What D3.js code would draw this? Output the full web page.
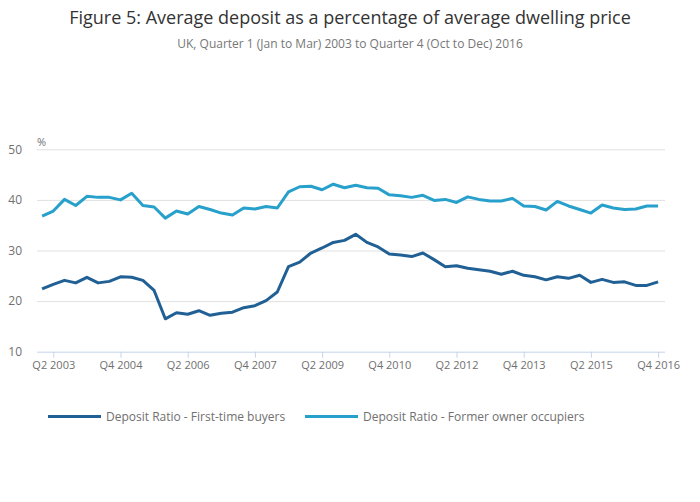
<!DOCTYPE html>
<html>
<head>
<meta charset="utf-8">
<script src="https://cdn.jsdelivr.net/npm/d3@7"></script>
<style>
  body { margin: 0; background: #fff; }
  text { font-family: 'Open Sans', sans-serif; }
</style>
</head>
<body>
<div id="chart"></div>
<script>
// quarters Q1 2003 .. Q4 2016
const years = d3.range(2003, 2017);
const quarters = years.flatMap(y => [1, 2, 3, 4].map(q => `Q${q} ${y}`));

const firstTime = [
  22.4, 23.3, 24.1, 23.6, 24.7, 23.6, 23.9, 24.8, 24.7, 24.1,
  22.1, 16.5, 17.7, 17.4, 18.1, 17.2, 17.6, 17.8, 18.7, 19.1,
  20.1, 21.8, 26.8, 27.7, 29.5, 30.5, 31.6, 32.0, 33.2, 31.6,
  30.7, 29.3, 29.1, 28.8, 29.5, 28.2, 26.8, 27.0, 26.5, 26.2,
  25.9, 25.3, 25.9, 25.1, 24.8, 24.2, 24.8, 24.5, 25.1, 23.7,
  24.3, 23.7, 23.8, 23.1, 23.1, 23.8
];
const formerOwner = [
  36.8, 37.8, 40.1, 38.9, 40.7, 40.5, 40.5, 40.0, 41.3, 38.9,
  38.6, 36.4, 37.8, 37.2, 38.7, 38.1, 37.4, 37.0, 38.4, 38.2,
  38.7, 38.4, 41.6, 42.6, 42.7, 42.0, 43.1, 42.4, 42.9, 42.4,
  42.3, 41.0, 40.8, 40.5, 40.9, 39.9, 40.1, 39.5, 40.6, 40.1,
  39.8, 39.8, 40.3, 38.8, 38.7, 38.0, 39.7, 38.8, 38.1, 37.4,
  39.0, 38.4, 38.1, 38.2, 38.8, 38.8
];
const yTicks = [10, 20, 30, 40, 50];
const xTickLabels = ['Q2 2003', 'Q4 2004', 'Q2 2006', 'Q4 2007', 'Q2 2009',
                     'Q4 2010', 'Q2 2012', 'Q4 2013', 'Q2 2015', 'Q4 2016'];

const series = [
  { name: 'Deposit Ratio - First-time buyers', values: firstTime, color: '#206095' },
  { name: 'Deposit Ratio - Former owner occupiers', values: formerOwner, color: '#27a0cc' }
];

const W = 700, H = 502;
const svg = d3.select('#chart').append('svg')
  .attr('width', W).attr('height', H);

// titles
svg.append('text')
  .attr('x', W / 2).attr('y', 24)
  .attr('text-anchor', 'middle')
  .style('font-size', '18px').style('fill', '#333')
  .text('Figure 5: Average deposit as a percentage of average dwelling price');
svg.append('text')
  .attr('x', W / 2).attr('y', 48)
  .attr('text-anchor', 'middle')
  .style('font-size', '12px').style('fill', '#777')
  .text('UK, Quarter 1 (Jan to Mar) 2003 to Quarter 4 (Oct to Dec) 2016');

// scales
const x = d3.scaleLinear().domain([0, quarters.length - 1]).range([42.1, 658.1]);
const y = d3.scaleLinear().domain([10, 50]).range([351.7, 149.3]);
const plotLeft = 37, plotRight = 665;

// grid + y labels
const yAxis = svg.append('g').attr('transform', `translate(${plotLeft},0)`)
  .call(d3.axisLeft(y).tickValues(yTicks).tickSize(-(plotRight - plotLeft)).tickPadding(15));
yAxis.select('.domain').remove();
yAxis.selectAll('.tick line').attr('stroke', '#e0e0e0');
yAxis.selectAll('.tick text').style('font-size', '12px').style('fill', '#707070');
yAxis.selectAll('.tick').filter(d => d === 10).select('line').remove();

svg.append('text')
  .attr('x', 37).attr('y', 146)
  .style('font-size', '11px').style('fill', '#707070')
  .text('%');

// x axis
const tickIdx = xTickLabels.map(l => quarters.indexOf(l));
const xAxis = svg.append('g').attr('transform', `translate(0,${y(10)})`)
  .call(d3.axisBottom(x).tickValues(tickIdx).tickFormat(i => quarters[i])
    .tickSize(6).tickSizeOuter(0).tickPadding(4));
xAxis.select('.domain').attr('d', `M${plotLeft},0.5H${plotRight}`).attr('stroke', '#c6d4ea');
xAxis.selectAll('.tick line').attr('stroke', '#c6d4ea');
xAxis.selectAll('.tick text').style('font-size', '11px').style('fill', '#707070');

// lines
const line = d3.line().x((d, i) => x(i)).y(d => y(d));
svg.selectAll('.series')
  .data(series)
  .enter().append('path')
    .attr('class', 'series')
    .attr('d', d => line(d.values))
    .attr('fill', 'none')
    .attr('stroke', d => d.color)
    .attr('stroke-width', 3)
    .attr('stroke-linejoin', 'round');

// legend
const legendX = [48, 305];
const lg = svg.selectAll('.legend')
  .data(series)
  .enter().append('g')
    .attr('class', 'legend')
    .attr('transform', (d, i) => `translate(${legendX[i]},416.5)`);
lg.append('line')
  .attr('x1', 0).attr('x2', 53)
  .attr('stroke', d => d.color).attr('stroke-width', 3);
lg.append('text')
  .attr('x', 58).attr('dy', '0.35em')
  .style('font-size', '12px').style('fill', '#707070')
  .text(d => d.name);
</script>
</body>
</html>
